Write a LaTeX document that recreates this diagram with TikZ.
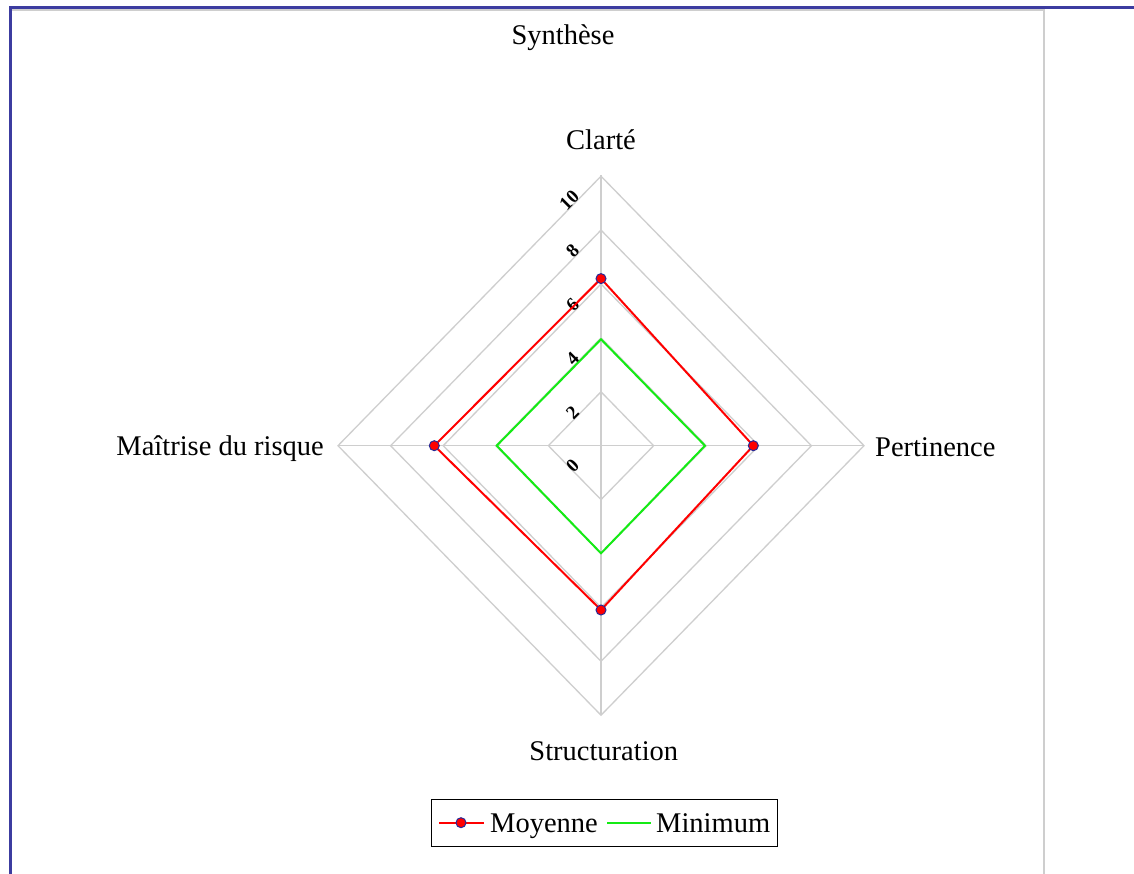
\documentclass[tikz,border=0pt]{standalone}
\usepackage{fontspec}
\setmainfont{Liberation Serif}
\definecolor{gridgrey}{RGB}{206,206,206}
\definecolor{borderblue}{RGB}{60,60,160}
\definecolor{markblue}{RGB}{40,40,150}
\definecolor{mingreen}{RGB}{20,235,20}
\begin{document}
\begin{tikzpicture}[x=1pt,y=-1pt,
  grid/.style={draw=gridgrey, line width=1.3pt},
  lbl/.style={inner sep=0pt, font=\fontsize{28.5}{33}\selectfont},
  tick/.style={inner sep=0pt, rotate=45, anchor=east, font=\fontsize{19}{21}\selectfont\bfseries},
  moy/.style={draw=red, line width=2pt},
  mini/.style={draw=mingreen, line width=2pt},
  mk/.style={circle, fill=red, draw=markblue, line width=1pt, minimum size=10pt, inner sep=0pt}]
\useasboundingbox (0,0) rectangle (1134,874);
\fill[white] (0,0) rectangle (1134,874);
% frame
\draw[gridgrey, line width=1.5pt] (12,10) -- (1044,10) -- (1044,874);
\fill[borderblue] (9,6) rectangle (1134,9);
\fill[borderblue] (9,6) rectangle (12,874);
% grid
\foreach \v in {2,4,6,8,10}
  \draw[grid] (601,{445.7-26.95*\v}) -- ({601+26.3*\v},445.7) -- (601,{445.7+26.95*\v}) -- ({601-26.3*\v},445.7) -- cycle;
\coordinate (T) at (601,175.2);
\coordinate (R) at (864,445.7);
\coordinate (B) at (601,715.2);
\coordinate (L) at (338,445.7);
\draw[grid] (T) -- (B);
\draw[grid] (L) -- (R);
% tick labels
\foreach \v in {0,2,4,6,8,10}
  \node[tick] (t\v) at (576,{445.7-26.95*\v+17}) {\v};
% Minimum
\coordinate (n1) at (601,339.3);
\coordinate (n2) at (705,445.7);
\coordinate (n3) at (601,553.3);
\coordinate (n4) at (496.7,445.7);
\draw[mini] (n1) -- (n2) -- (n3) -- (n4) -- cycle;
% Moyenne
\coordinate (p1) at (601,278.6);
\coordinate (p2) at (753.3,445.7);
\coordinate (p3) at (601,610);
\coordinate (p4) at (434.3,445.7);
\draw[moy] (p1) -- (p2) -- (p3) -- (p4) -- cycle;
\foreach \i in {1,2,3,4}
  \node[mk] (m\i) at (p\i) {};
% labels
\node[lbl, anchor=base] (title) at (563,44.3) {Synthèse};
\node[lbl, anchor=base] (clarte) at (601,150) {Clarté};
\node[lbl, anchor=base west] (pert) at (875,456.7) {Pertinence};
\node[lbl, anchor=base east] (maitr) at (324,455) {Maîtrise du risque};
\node[lbl, anchor=base] (struct) at (603.8,760) {Structuration};
% legend
\node[draw=black, line width=1pt, minimum width=345.7pt, minimum height=46.7pt, inner sep=0pt, anchor=north west] (leg) at (431,799) {};
\coordinate (la) at (439,822.7);
\coordinate (lb) at (484,822.7);
\draw[moy] (la) -- (lb);
\node[mk] (lm) at (461,822.7) {};
\node[lbl, anchor=base west] (lmoy) at (490,832.3) {Moyenne};
\coordinate (lc) at (607,822.7);
\coordinate (ld) at (651,822.7);
\draw[mini] (lc) -- (ld);
\node[lbl, anchor=base west] (lmin) at (656,832.3) {Minimum};
\end{tikzpicture}
\end{document}
